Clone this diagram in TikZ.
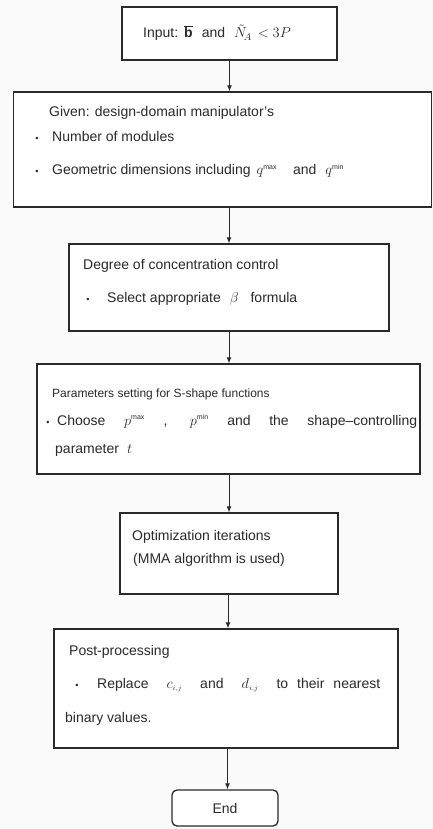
\documentclass[tikz,border=0pt]{standalone}
\usepackage{fontspec}
\setmainfont{Liberation Sans}
\usetikzlibrary{arrows.meta}
\definecolor{bgc}{HTML}{FAFAFA}
\definecolor{ink}{HTML}{2A2A2A}
\tikzset{
  box/.style={draw=ink, line width=1.3pt, fill=white, inner sep=0pt},
  txt/.style={anchor=base west, inner sep=0pt, text=ink, font=\fontsize{14}{16}\selectfont},
  bul/.style={anchor=base, inner sep=0pt, text=ink, font=\fontsize{9}{10}\selectfont},
  arr/.style={draw=ink, line width=1pt, -{Latex[length=6pt,width=5pt]}}
}
\begin{document}
\begin{tikzpicture}[x=1pt,y=-1pt]
\path[fill=bgc] (0,0) rectangle (433,829);
\useasboundingbox (0,0) rectangle (433,829);
% boxes
\node[box, minimum width=215pt, minimum height=53pt] (b1) at (229.5,33.5) {};
\node[box, minimum width=418pt, minimum height=115pt] (b2) at (222.5,149.5) {};
\node[box, minimum width=320pt, minimum height=87pt] (b3) at (229,287.5) {};
\node[box, minimum width=383pt, minimum height=110pt] (b4) at (228.5,419) {};
\node[box, minimum width=218pt, minimum height=81pt] (b5) at (229,553.5) {};
\node[box, minimum width=344pt, minimum height=119pt] (b6) at (226,688.5) {};
\node[box, rounded corners=5pt, minimum width=106pt, minimum height=36pt, font=\fontsize{14}{16}\selectfont, text=ink] (e) at (225,808) {End};
% texts
\node[txt] (t1) at (143,38) {Input:\hspace{6pt}$\overline{\mathbf{b}}$\hspace{9pt}and\hspace{9pt}$\tilde{N}_{\!A}$\hspace{6pt}$<3P$};
\node[txt] (t2a) at (49,117) {Given: design-domain manipulator's};
\node[bul] (u2b) at (37,142) {•};
\node[txt] (t2b) at (52,142) {Number of modules};
\node[bul] (u2c) at (37,175) {•};
\node[txt] (t2c) at (52,175) {Geometric dimensions including\hspace{6pt}$q^{\scriptscriptstyle\max}$\hspace{16pt}and\hspace{9pt}$q^{\scriptscriptstyle\min}$};
\node[txt] (t3a) at (83,269) {Degree of concentration control};
\node[bul] (u3b) at (88,302) {•};
\node[txt] (t3b) at (107,302) {Select appropriate\hspace{9pt}$\beta$\hspace{12pt}formula};
\node[txt, font=\fontsize{12}{14}\selectfont] (t4a) at (52,397) {Parameters setting for S-shape functions};
\node[bul] (u4b) at (48,425) {•};
\node[txt, font=\fontsize{14}{16}\selectfont] (t4b) at (57,425) {\makebox[360pt][s]{Choose $p^{\scriptscriptstyle\max}$ , $p^{\scriptscriptstyle\min}$ and the shape–controlling}};
\node[txt, font=\fontsize{14}{16}\selectfont] (t4c) at (55,453) {parameter\hspace{8pt}$t$};
\node[txt] (t5a) at (132,540) {Optimization iterations};
\node[txt] (t5b) at (133,563) {(MMA algorithm is used)};
\node[txt] (t6a) at (69,655) {Post-processing};
\node[bul] (u6b) at (77,688) {•};
\node[txt] (t6b) at (97,688) {\makebox[283pt][s]{Replace\ \ $c_{\scriptscriptstyle i,j}$\ \ and\ \ $d_{\scriptscriptstyle i,j}$\ \ to their nearest}};
\node[txt] (t6c) at (65,722) {binary values.};
% connectors
\draw[arr] (b1.south) -- (b1.south |- b2.north);
\draw[arr] ([xshift=6.5pt]b2.south) -- ([xshift=6.5pt]b2.south |- b3.north);
\draw[arr] (b3.south) -- (b3.south |- b4.north);
\draw[arr] ([xshift=0.5pt]b4.south) -- ([xshift=0.5pt]b4.south |- b5.north);
\draw[arr] ([xshift=2pt]b6.north |- b5.south) -- ([xshift=2pt]b6.north);
\draw[arr] ([xshift=1.5pt]b6.south) -- ([xshift=1.5pt]b6.south |- e.north);
\end{tikzpicture}
\end{document}
